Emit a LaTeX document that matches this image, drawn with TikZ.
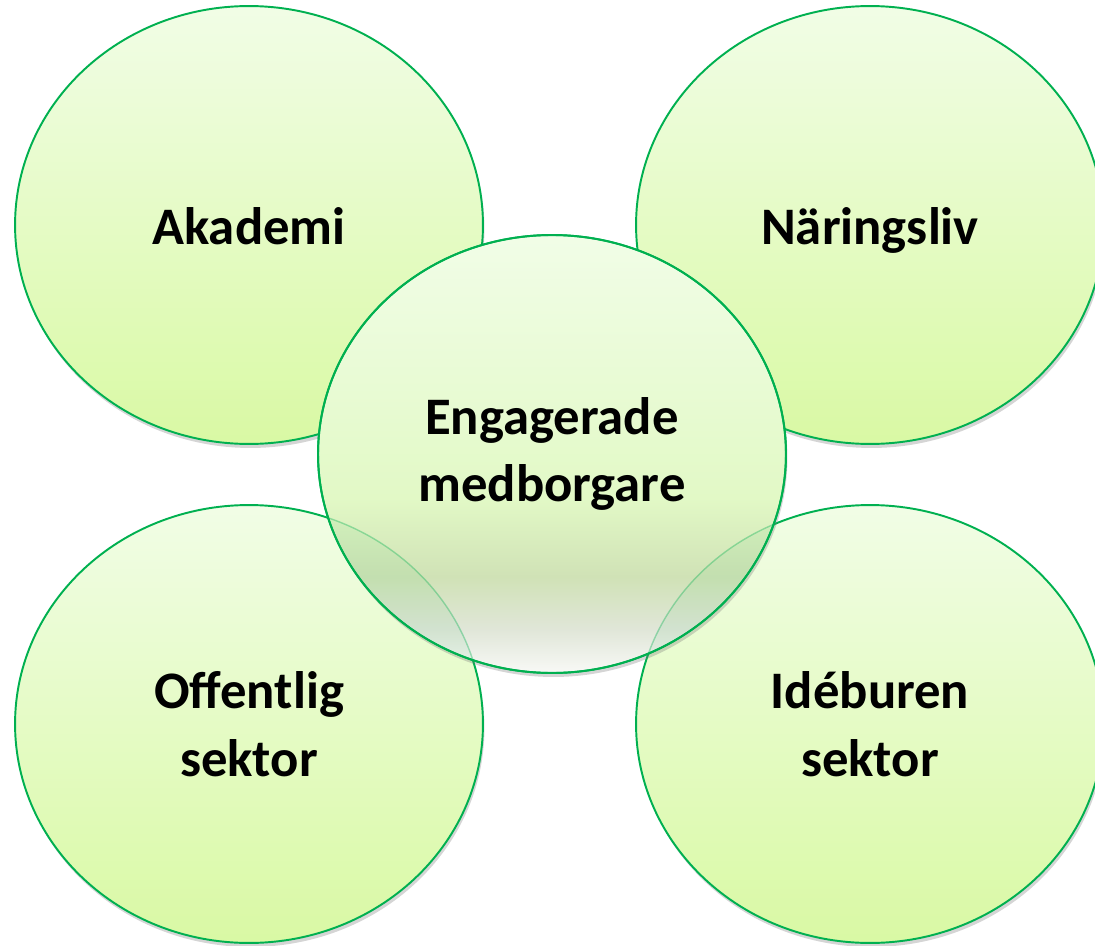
\documentclass[tikz,border=0pt]{standalone}
\usepackage{fontspec}
\setmainfont{Carlito}
\usetikzlibrary{shapes.geometric,shadows}
\definecolor{ringgreen}{RGB}{0,176,80}
\definecolor{filltop}{RGB}{241,253,230}
\definecolor{fillbot}{RGB}{217,249,164}
\definecolor{ctrT}{RGB}{241,253,231}
\definecolor{ctrM}{RGB}{226,249,198}
\definecolor{ctrG}{RGB}{208,226,182}
\definecolor{ctrL}{RGB}{224,230,216}
\definecolor{ctrW}{RGB}{248,249,246}
\pgfdeclareverticalshading{ctrshade}{100bp}{color(0bp)=(ctrW); color(25bp)=(ctrW); color(30bp)=(ctrL); color(36bp)=(ctrG); color(45bp)=(ctrM); color(75bp)=(ctrT); color(100bp)=(ctrT)}
\begin{document}
\begin{tikzpicture}[x=0.02cm,y=-0.02cm,
  disc/.style={ellipse, draw=ringgreen, line width=1.1pt,
    minimum width=9.36cm, minimum height=8.76cm, inner sep=0pt,
    align=center, font=\bfseries\fontsize{30}{38.5}\selectfont,
    drop shadow={shadow xshift=0.03cm, shadow yshift=-0.08cm, opacity=0.3, fill=black!55}},
  sector/.style={disc, top color=filltop, bottom color=fillbot},
  oneline/.style={text height=26pt, text depth=3.3pt},
  centre/.style={disc, shading=ctrshade},
  seethru/.style={ringgreen, opacity=0.35, line width=0.8pt}]
\useasboundingbox (0,0) rectangle (1095,946);
\clip (0,0) rectangle (1095,946);
\node[sector, oneline] (TL) at (249,225) {Akademi};
\node[sector, oneline] (TR) at (870,225) {Näringsliv};
\node[sector] (BL) at (249,724) {Offentlig\\sektor};
\node[sector] (BR) at (870,724) {Idéburen\\sektor};
\node[centre] (C) at (552,454) {Engagerade\\medborgare};
\begin{scope}
  \clip (C.center) ellipse [x radius=234, y radius=219];
  \fill[ringgreen, opacity=0.06] (BL.center) ellipse [x radius=234, y radius=219];
  \fill[ringgreen, opacity=0.06] (BR.center) ellipse [x radius=234, y radius=219];
  \draw[seethru] (BL.center) ellipse [x radius=234, y radius=219];
  \draw[seethru] (BR.center) ellipse [x radius=234, y radius=219];
\end{scope}
\draw[ringgreen, line width=1.1pt] (C.center) ellipse [x radius=234, y radius=219];
\end{tikzpicture}
\end{document}
